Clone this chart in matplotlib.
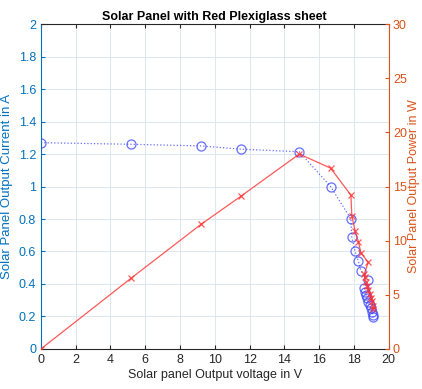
import matplotlib
matplotlib.use("Agg")
import matplotlib.pyplot as plt

plt.rcParams['font.family'] = ['Liberation Sans', 'DejaVu Sans']

# measured operating points of the panel (voltage in V, current in A, power in W)
voltage = [0.0, 5.2, 9.2, 11.5, 14.86, 16.66, 17.83, 17.88, 18.07, 18.26, 18.41,
           18.83, 18.6, 18.64, 18.7, 18.75, 18.83, 18.9, 18.98, 19.05, 19.09, 19.1]
current = [1.27, 1.26, 1.25, 1.23, 1.214, 1.0, 0.80, 0.69, 0.60, 0.54, 0.48,
           0.425, 0.373, 0.353, 0.332, 0.312, 0.29, 0.27, 0.25, 0.23, 0.21, 0.195]
power = [0.0, 6.55, 11.5, 14.1, 18.0, 16.7, 14.2, 12.3, 10.9, 9.9, 8.85,
         8.0, 6.95, 6.6, 6.2, 5.85, 5.45, 5.1, 4.75, 4.4, 4.0, 3.7]

title = "Solar Panel with Red Plexiglass sheet"
xlabel = "Solar panel Output voltage in V"
ylabel_left = "Solar Panel Output Current in A"
ylabel_right = "Solar Panel Output Power in W"

left_col = '#0072BD'
right_col = '#D95319'

fig = plt.figure(figsize=(4.22, 3.89), dpi=100)
ax = fig.add_axes([0.097, 0.103, 0.824, 0.835])
ax2 = ax.twinx()

ax.plot(voltage, current, ':', color='#3340ff', marker='o', mfc='none',
        ms=6.5, mew=0.9, lw=0.9, alpha=0.75)
ax2.plot(voltage, power, '-', color='#ff3030', marker='x',
         ms=5, mew=0.9, lw=0.9, alpha=0.8)

ax.set_xlim(0, 20)
ax.set_ylim(0, 2)
ax2.set_ylim(0, 30)
ax.set_xticks(range(0, 21, 2))
ax.set_yticks([i * 0.2 for i in range(11)])
ax.set_yticklabels(['0', '0.2', '0.4', '0.6', '0.8', '1', '1.2', '1.4', '1.6', '1.8', '2'])
ax2.set_yticks(range(0, 31, 5))

ax.grid(True, color='#dde6ee', lw=0.7)
ax.set_axisbelow(True)

ax.tick_params(axis='x', direction='in', top=True, labelsize=9, colors='#262626', length=3)
ax.tick_params(axis='y', direction='in', labelsize=9, colors=left_col, length=3)
ax2.tick_params(axis='y', direction='in', labelsize=9, colors=right_col, length=3, pad=3)

ax.spines['left'].set_color(left_col)
ax2.spines['left'].set_visible(False)
ax2.spines['right'].set_color(right_col)
for s in ['top', 'bottom']:
    ax.spines[s].set_color('#262626')
    ax2.spines[s].set_visible(False)
ax.spines['right'].set_visible(False)

ax.set_title(title, fontsize=9, fontweight='bold', pad=3)
ax.set_xlabel(xlabel, fontsize=9, color='#262626', labelpad=2)
ax.set_ylabel(ylabel_left, fontsize=9.5, color=left_col, labelpad=4)
ax2.set_ylabel(ylabel_right, fontsize=9, color=right_col, labelpad=1)

fig.savefig('out.png', dpi=100)
